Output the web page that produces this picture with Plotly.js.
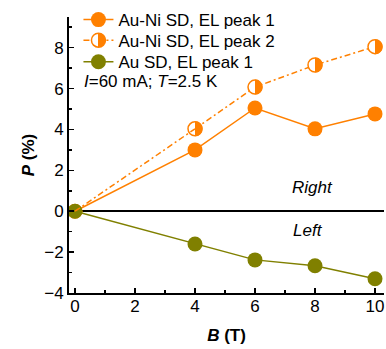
<!DOCTYPE html>
<html>
<head>
<meta charset="utf-8">
<script src="https://cdn.plot.ly/plotly-3.0.1.min.js"></script>
<style>
html,body{margin:0;padding:0;background:#fff;}
g.legend2 path.scatterpts,
.legendpoints path.scatterpts[style*="255, 255, 255"],
.legendpoints path.scatterpts[style*="#ffffff"] { fill: url(#halfgrad) !important; }
</style>
</head>
<body>
<svg width="0" height="0" style="position:absolute;left:0;top:0">
  <defs>
    <linearGradient id="halfgrad" x1="0" y1="0" x2="1" y2="0">
      <stop offset="0" stop-color="#ffffff"/>
      <stop offset="0.5" stop-color="#ffffff"/>
      <stop offset="0.5" stop-color="#FF8000"/>
      <stop offset="1" stop-color="#FF8000"/>
    </linearGradient>
  </defs>
</svg>
<div id="chart" style="width:386px;height:349px;"></div>
<script>
const fieldB = [0, 4, 6, 8, 10];
const auNiPeak1 = [0, 3.0, 5.05, 4.03, 4.76];
const auNiPeak2 = [0, 4.03, 6.07, 7.15, 8.05];
const auPeak1 = [0, -1.6, -2.38, -2.67, -3.3];
const names = ['Au-Ni SD, EL peak 1', 'Au-Ni SD, EL peak 2', 'Au SD, EL peak 1'];

const ORANGE = '#FF8000';
const OLIVE = '#808000';
const FONT = 'Arial, "Liberation Sans", sans-serif';
const R = 7.5;
const k = 0.5523 * R;
const halfPath = `M0,${-R} C${k},${-R} ${R},${-k} ${R},0 C${R},${k} ${k},${R} 0,${R} Z`;
const DASH = '6px,3px,2px,3px';

const traces = [
  {x: fieldB, y: auNiPeak1, name: names[0], mode: 'lines+markers', legend: 'legend',
   line: {color: ORANGE, width: 1.5},
   marker: {symbol: 'circle', size: 15, color: ORANGE}},
  {x: fieldB.slice(1), y: auNiPeak2.slice(1), name: names[1], mode: 'lines+markers', legend: 'legend2',
   line: {color: ORANGE, width: 1.5, dash: DASH},
   marker: {symbol: 'circle', size: 14, color: '#ffffff', line: {color: ORANGE, width: 1.5}}},
  {x: fieldB, y: auPeak1, name: names[2], mode: 'lines+markers', legend: 'legend3',
   line: {color: OLIVE, width: 1.5},
   marker: {symbol: 'circle', size: 15, color: OLIVE}},
  {x: fieldB.slice(0, 2), y: auNiPeak2.slice(0, 2), mode: 'lines', showlegend: false,
   line: {color: ORANGE, width: 1.5, dash: DASH}, hoverinfo: 'skip'}
];

const shapes = fieldB.slice(1).map((b, i) => ({
  type: 'path', xref: 'x', yref: 'y', xsizemode: 'pixel', ysizemode: 'pixel',
  xanchor: b, yanchor: auNiPeak2[i + 1], path: halfPath,
  fillcolor: ORANGE, line: {width: 0}, layer: 'above'
}));

function leg(y) {
  return {x: 0.03, y: y, xanchor: 'left', yanchor: 'middle', bgcolor: 'rgba(0,0,0,0)',
    font: {family: FONT, size: 17, color: '#000'}};
}

const layout = {
  width: 386, height: 349,
  margin: {l: 69, r: 2, t: 12, b: 56},
  paper_bgcolor: '#fff', plot_bgcolor: '#fff',
  font: {family: FONT, size: 17, color: '#000'},
  showlegend: true,
  legend: leg(0.989),
  legend2: leg(0.9145),
  legend3: leg(0.836),
  xaxis: {
    range: [-0.2, 10.3], tickvals: [0, 2, 4, 6, 8, 10], ticks: 'inside', ticklen: 5, tickwidth: 1.5,
    tickcolor: '#000', showline: true, linecolor: '#000', linewidth: 2, showgrid: false, zeroline: false,
    minor: {tickvals: [1, 3, 5, 7, 9], ticks: 'inside', ticklen: 3, tickwidth: 1.5, tickcolor: '#000'},
    tickfont: {family: FONT, size: 17}, ticklabelstandoff: -3,
    title: {text: '<b><i>B</i> (T)</b>', font: {family: FONT, size: 17}, standoff: 14}
  },
  yaxis: {
    range: [-4, 9.5], tickvals: [-4, -2, 0, 2, 4, 6, 8], ticks: 'inside', ticklen: 5, tickwidth: 1.5,
    tickcolor: '#000', showline: true, linecolor: '#000', linewidth: 2, showgrid: false,
    zeroline: true, zerolinecolor: '#000', zerolinewidth: 1.5,
    minor: {tickvals: [-3, -1, 1, 3, 5, 7, 9], ticks: 'inside', ticklen: 3, tickwidth: 1.5, tickcolor: '#000'},
    tickfont: {family: FONT, size: 17},
    title: {text: '<b><i>P</i> (%)</b>', font: {family: FONT, size: 17}, standoff: 5}
  },
  shapes: shapes,
  annotations: [
    {xref: 'paper', yref: 'paper', x: 0.04, y: 0.765, xanchor: 'left', yanchor: 'middle', showarrow: false,
     text: '<i>I</i>=60 mA; <i>T</i>=2.5 K', font: {family: FONT, size: 17}},
    {xref: 'x', yref: 'y', x: 7.9, y: 1.16, showarrow: false, text: '<i>Right</i>', font: {family: FONT, size: 17}},
    {xref: 'x', yref: 'y', x: 7.75, y: -0.92, showarrow: false, text: '<i>Left</i>', font: {family: FONT, size: 17}}
  ]
};

function applyLegendHalf() {
  document.querySelectorAll('#chart .legendpoints path').forEach(p => {
    const s = p.getAttribute('style') || '';
    if (/255,\s*255,\s*255/.test(s) || /#ffffff/i.test(s)) {
      p.style.setProperty('fill', 'url(#halfgrad)', 'important');
    }
  });
}

const obs = new MutationObserver(() => applyLegendHalf());
obs.observe(document.getElementById('chart'), {childList: true, subtree: true});

Plotly.newPlot('chart', traces, layout, {displayModeBar: false, staticPlot: true}).then(() => {
  applyLegendHalf();
  setTimeout(applyLegendHalf, 50);
});
</script>
</body>
</html>
